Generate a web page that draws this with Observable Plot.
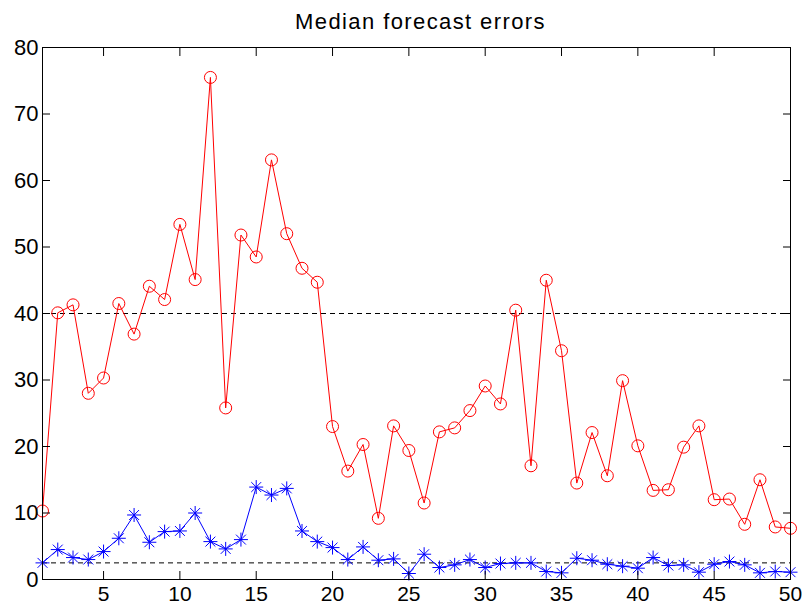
<!DOCTYPE html>
<html>
<head>
<meta charset="utf-8">
<script src="https://cdn.jsdelivr.net/npm/d3@7"></script>
<script src="https://cdn.jsdelivr.net/npm/@observablehq/plot@0.6"></script>
<style>
  html, body { margin: 0; padding: 0; background: #fff; }
  #chart svg { display: block; }
  #chart svg g[aria-label="text"] text { letter-spacing: 1.4px; }
</style>
</head>
<body>
<div id="chart"></div>
<script>
// Horizon index 1..50
const horizons = d3.range(1, 51);

// Median forecast errors, first model (red circles)
const redErrors = [10.3, 40.1, 41.3, 28.0, 30.3, 41.5, 36.9, 44.1, 42.1, 53.4,
                   45.1, 75.5, 25.8, 51.8, 48.5, 63.1, 52.0, 46.8, 44.7, 23.0,
                   16.3, 20.3, 9.2, 23.1, 19.4, 11.5, 22.2, 22.8, 25.4, 29.1,
                   26.4, 40.5, 17.1, 45.0, 34.4, 14.5, 22.1, 15.6, 29.9, 20.1,
                   13.4, 13.5, 19.9, 23.1, 12.0, 12.1, 8.3, 15.0, 7.9, 7.7];

// Median forecast errors, second model (blue asterisks)
const blueErrors = [2.5, 4.5, 3.3, 3.0, 4.2, 6.2, 9.7, 5.6, 7.2, 7.3,
                    10.0, 5.7, 4.6, 6.0, 13.9, 12.7, 13.7, 7.3, 5.7, 4.8,
                    3.0, 4.9, 2.9, 3.1, 0.9, 3.8, 1.8, 2.2, 3.0, 1.8,
                    2.4, 2.5, 2.5, 1.2, 1.0, 3.2, 2.9, 2.3, 2.0, 1.7,
                    3.3, 2.1, 2.2, 1.1, 2.3, 2.7, 2.2, 1.0, 1.2, 1.1];

// Reference levels (dashed lines)
const referenceLevels = [40, 2.5];

const xTicks = [5, 10, 15, 20, 25, 30, 35, 40, 45, 50];
const yTicks = [0, 10, 20, 30, 40, 50, 60, 70, 80];
const titleText = "Median forecast errors";

const red = horizons.map((h, i) => ({h, v: redErrors[i]}));
const blue = horizons.map((h, i) => ({h, v: blueErrors[i]}));

// Eight-spoke asterisk (plus and cross combined)
const asterisk = {
  draw(context, size) {
    const r = Math.sqrt(size / Math.PI);
    const d = r * Math.SQRT1_2;
    context.moveTo(-r, 0); context.lineTo(r, 0);
    context.moveTo(0, -r); context.lineTo(0, r);
    context.moveTo(-d, -d); context.lineTo(d, d);
    context.moveTo(-d, d); context.lineTo(d, -d);
  }
};

const font = "'Liberation Sans', Arial, Helvetica, sans-serif";

const chart = Plot.plot({
  width: 803,
  height: 606,
  marginLeft: 42,
  marginRight: 13,
  marginTop: 47,
  marginBottom: 27,
  style: {fontFamily: font, fontSize: "22px", color: "#000", background: "#fff"},
  x: {domain: [1, 50]},
  y: {domain: [0, 80]},
  marks: [
    Plot.ruleY(referenceLevels, {stroke: "#000", strokeWidth: 1, strokeDasharray: "5,4"}),
    Plot.line(red, {x: "h", y: "v", stroke: "#ff0000", strokeWidth: 1}),
    Plot.dot(red, {x: "h", y: "v", r: 6, stroke: "#ff0000", strokeWidth: 1, fill: "none"}),
    Plot.line(blue, {x: "h", y: "v", stroke: "#0000ff", strokeWidth: 1}),
    Plot.dot(blue, {x: "h", y: "v", r: 7, symbol: asterisk, stroke: "#0000ff", strokeWidth: 1, fill: "none"}),
    Plot.frame({stroke: "#000", strokeWidth: 1}),
    Plot.axisX({anchor: "bottom", ticks: xTicks, tickSize: -8, tickPadding: 15, label: null, fontSize: 21}),
    Plot.axisX({anchor: "top", ticks: xTicks, tickSize: -8, label: null, tickFormat: () => ""}),
    Plot.axisY({anchor: "left", ticks: yTicks, tickSize: -8, tickPadding: 12, label: null, fontSize: 22}),
    Plot.axisY({anchor: "right", ticks: yTicks, tickSize: -8, label: null, tickFormat: () => ""}),
    Plot.text([titleText], {frameAnchor: "top", dx: 4, dy: -26, lineAnchor: "middle", fontSize: 22, fill: "#000"})
  ]
});

document.getElementById("chart").appendChild(chart);
</script>
</body>
</html>
